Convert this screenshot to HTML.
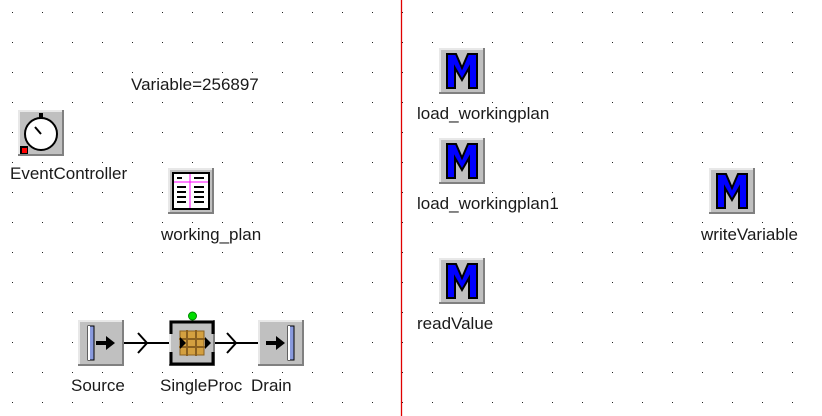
<!DOCTYPE html>
<html><head><meta charset="utf-8"><style>
html,body{margin:0;padding:0;background:#fff;}
svg{display:block;}
text{font-family:"Liberation Sans",sans-serif;font-size:17px;fill:#1a1a1a;}
</style></head><body>
<svg width="822" height="416" viewBox="0 0 822 416" xmlns="http://www.w3.org/2000/svg">
<defs>
<pattern id="dots" x="0" y="0" width="30" height="30" patternUnits="userSpaceOnUse">
<rect x="12" y="12" width="1" height="1" fill="#222"/>
</pattern>
<g id="box">
<rect x="0" y="0" width="46" height="46" fill="#c0c0c0"/>
<path d="M0 0H46V2H2V46H0Z" fill="#e8e8e8"/>
<path d="M46 0V46H0V44H44V0Z" fill="#808080"/>
</g>
<g id="micon">
<use href="#box"/>
<polygon points="8,6 17,6 23,20 29,6 38,6 38,40 30,40 30,20 23,32 16,20 16,40 8,40" fill="#0000ff" stroke="#000" stroke-width="2"/>
</g>
</defs>
<rect width="822" height="416" fill="url(#dots)"/>
<line x1="401.5" y1="0" x2="401.5" y2="416" stroke="#e00000" stroke-width="1.3"/>

<text x="131" y="90">Variable=256897</text>

<g transform="translate(18,110)">
<use href="#box"/>
<circle cx="23" cy="24" r="16" fill="#fff" stroke="#000" stroke-width="2"/>
<rect x="21" y="3" width="4" height="6" fill="#000"/>
<line x1="23" y1="24" x2="17" y2="17" stroke="#000" stroke-width="2"/>
<rect x="2" y="36" width="8" height="8" fill="#000"/>
<rect x="4" y="38" width="5" height="5" fill="#f00"/>
</g>
<text x="10" y="179">EventController</text>

<g transform="translate(168,168)">
<use href="#box"/>
<rect x="5" y="5" width="36" height="36" fill="#fff" stroke="#000" stroke-width="2"/>
<line x1="22" y1="6" x2="22" y2="40" stroke="#f0f" stroke-width="1"/>
<line x1="6" y1="14" x2="40" y2="14" stroke="#f0f" stroke-width="1"/>
<g stroke="#000" stroke-width="2">
<line x1="9" y1="10" x2="14" y2="10"/><line x1="26" y1="10" x2="36" y2="10"/>
<line x1="9" y1="19" x2="18" y2="19"/><line x1="26" y1="19" x2="36" y2="19"/>
<line x1="9" y1="24" x2="18" y2="24"/><line x1="26" y1="24" x2="36" y2="24"/>
<line x1="9" y1="29" x2="18" y2="29"/><line x1="26" y1="29" x2="36" y2="29"/>
<line x1="9" y1="34" x2="18" y2="34"/><line x1="26" y1="34" x2="36" y2="34"/>
</g>
</g>
<text x="161" y="240">working_plan</text>

<g stroke="#000" stroke-width="2" fill="none">
<line x1="124" y1="343" x2="169" y2="343"/>
<polyline points="138,333 147,343 138,353"/>
<line x1="215" y1="343" x2="258" y2="343"/>
<polyline points="227,333 236,343 227,353"/>
</g>

<g transform="translate(78,320)">
<use href="#box"/>
<rect x="10" y="6" width="6" height="34" fill="#8899dd" stroke="#000" stroke-width="1"/>
<rect x="10" y="6" width="2" height="34" fill="#fff"/>
<line x1="18" y1="23" x2="30" y2="23" stroke="#000" stroke-width="4"/>
<polygon points="28,16 37,23 28,30" fill="#000"/>
</g>
<text x="71" y="391">Source</text>

<g transform="translate(169,320)">
<use href="#box"/>
<path d="M2 14V2H44V14M2 32V44H44V32" stroke="#000" stroke-width="3" fill="none"/>
<rect x="11" y="11" width="24" height="24" fill="#d4a040" stroke="#8a6020" stroke-width="1"/>
<g stroke="#8a6020" stroke-width="2"><line x1="18" y1="10" x2="18" y2="36"/><line x1="27" y1="10" x2="27" y2="36"/><line x1="10" y1="19" x2="36" y2="19"/><line x1="10" y1="27" x2="36" y2="27"/></g>
<polygon points="11,17 17,23 11,29" fill="#000"/>
<polygon points="36,17 42,23 36,29" fill="#000"/>
</g>
<circle cx="192.5" cy="316" r="4" fill="#00dd00" stroke="#008800" stroke-width="1"/>
<text x="160" y="391">SingleProc</text>

<g transform="translate(258,320)">
<use href="#box"/>
<line x1="8" y1="23" x2="20" y2="23" stroke="#000" stroke-width="4"/>
<polygon points="18,16 27,23 18,30" fill="#000"/>
<rect x="30" y="6" width="6" height="34" fill="#8899dd" stroke="#000" stroke-width="1"/>
<rect x="30" y="6" width="2" height="34" fill="#fff"/>
</g>
<text x="251" y="391">Drain</text>

<use href="#micon" transform="translate(439,48)"/>
<text x="417" y="119">load_workingplan</text>
<use href="#micon" transform="translate(439,138)"/>
<text x="417" y="209">load_workingplan1</text>
<use href="#micon" transform="translate(439,258)"/>
<text x="417" y="329">readValue</text>
<use href="#micon" transform="translate(709,168)"/>
<text x="701" y="240">writeVariable</text>
</svg>
</body></html>
